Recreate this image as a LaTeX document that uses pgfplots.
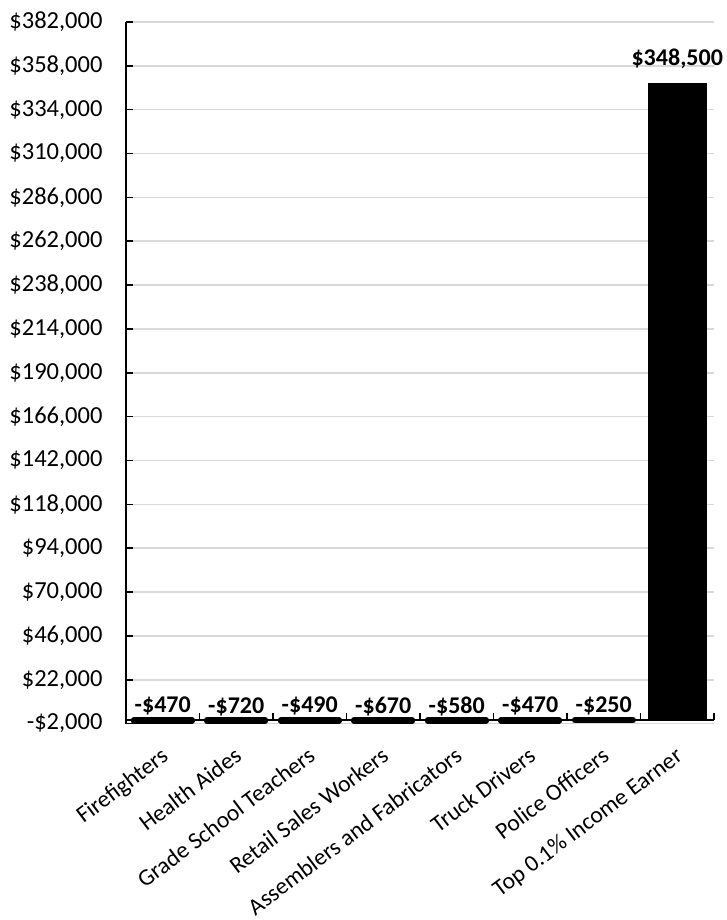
\documentclass[border=0pt]{standalone}
\usepackage{fontspec}
\setmainfont{Carlito}
\usepackage{pgfplots}
\pgfplotsset{compat=1.18}
\definecolor{gridgray}{HTML}{D9D9D9}
\begin{document}
\begin{tikzpicture}
\useasboundingbox (0,0) rectangle (726pt,920pt);
\begin{axis}[
  at={(126pt,196.4pt)}, anchor=south west,
  scale only axis, width=588pt, height=701.6pt,
  xmin=-0.5, xmax=7.5, ymin=-2000, ymax=382000,
  scaled y ticks=false,
  axis x line*=middle, axis y line*=left,
  hide obscured x ticks=false, hide obscured y ticks=false,
  axis line style={line width=2pt, black, -},
  tick align=inside, major tick length=7pt,
  major tick style={black, line width=1.6pt},
  xtick style={yshift=7pt},
  ymajorgrids, major grid style={gridgray, line width=1.6pt},
  ytick={-2000,22000,...,382000},
  yticklabels={{-\$2,000},{\$22,000},{\$46,000},{\$70,000},{\$94,000},{\$118,000},{\$142,000},{\$166,000},{\$190,000},{\$214,000},{\$238,000},{\$262,000},{\$286,000},{\$310,000},{\$334,000},{\$358,000},{\$382,000}},
  yticklabel style={font=\fontsize{24.5}{29}\selectfont, xshift=-20pt},
  xtick={-0.5,0.5,...,7.5},
  x tick label as interval,
  xticklabels={Firefighters,Health Aides,Grade School Teachers,Retail Sales Workers,Assemblers and Fabricators,Truck Drivers,Police Officers,Top 0.1\% Income Earner},
  xticklabel style={font=\fontsize{23.5}{28}\selectfont, xshift=-3pt, yshift=-19pt, rotate=37, anchor=north east, inner sep=0pt},
  ybar, bar width=58pt, bar shift=0pt,
  point meta=explicit symbolic,
  nodes near coords,
  nodes near coords align={anchor=base},
  clip=false,
]
\addplot[fill=black, draw=black, line width=6pt, line join=round,
  every node near coord/.append style={font=\bfseries\fontsize{24}{28}\selectfont, anchor=base, yshift=8pt}]
  coordinates {
  (0,-470) [-\$470]
  (1,-720) [-\$720]
  (2,-490) [-\$490]
  (3,-670) [-\$670]
  (4,-580) [-\$580]
  (5,-470) [-\$470]
  (6,-250) [-\$250]
};
\addplot[fill=black, draw=black, line width=0.5pt,
  every node near coord/.append style={font=\bfseries\fontsize{24}{28}\selectfont, anchor=base, yshift=18pt}]
  coordinates {
  (7,348500) [\$348,500]
};
\end{axis}
\end{tikzpicture}
\end{document}
